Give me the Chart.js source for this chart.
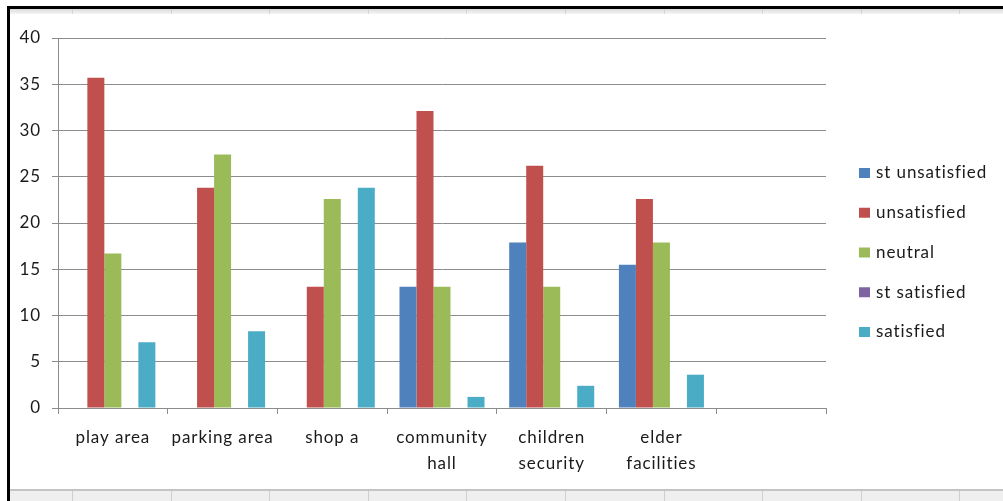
<!DOCTYPE html>
<html>
<head>
<meta charset="utf-8">
<script src="https://cdn.jsdelivr.net/npm/chart.js@4"></script>
<style>
  body { margin: 0; width: 1003px; height: 501px; background: #fff; position: relative; overflow: hidden; font-family: Lato, sans-serif; }
  .frame { position: absolute; left: 7px; top: 6px; width: 1000px; height: 500px; border-left: 3px solid #000; border-top: 3px solid #000; }
  .sheet-top { position: absolute; left: 10px; top: 9px; right: 0; height: 5px;
    background: repeating-linear-gradient(90deg, transparent 0 62px, #d4d4d4 62px 63px, transparent 63px 98.6px), linear-gradient(#dadada, #f6f6f6); }
  .sheet-bottom { position: absolute; left: 10px; top: 489px; right: 0; bottom: 0; border-top: 2px solid #c4c4c4;
    background: repeating-linear-gradient(90deg, transparent 0 62px, #cfcfcf 62px 63px, transparent 63px 98.6px), #efefef; }
  #wrap { position: absolute; left: 10px; top: 9px; width: 990px; height: 480px; }
</style>
</head>
<body>
<div class="frame"></div>
<div class="sheet-top"></div>
<div class="sheet-bottom"></div>
<div id="wrap"><canvas id="surveyChart"></canvas></div>
<script>
let categories = ["play area", "parking area", "shop a", ["community", "hall"], ["children", "security"], ["elder", "facilities"], ""];
let stUnsatisfied = [null, null, null, 13.1, 17.9, 15.5, null];
let unsatisfied = [35.7, 23.8, 13.1, 32.1, 26.2, 22.6, null];
let neutral = [16.7, 27.4, 22.6, 13.1, 13.1, 17.9, null];
let stSatisfied = [null, null, null, null, null, null, null];
let satisfied = [7.1, 8.3, 23.8, 1.2, 2.4, 3.6, null];
let yTicks = [0, 5, 10, 15, 20, 25, 30, 35, 40];

const gridGray = "#8c8c8c";
const textColor = "#1a1a1a";
const fontSize = 17;
const spacing = "0.9px";

// a little letter spacing for all canvas text (reset whenever the canvas is resized)
const wideText = {
  id: "wideText",
  beforeLayout(chart) { chart.ctx.letterSpacing = spacing; },
  beforeDraw(chart) { chart.ctx.letterSpacing = spacing; }
};

// legend on the right, drawn next to the plot area
const sideLegend = {
  id: "sideLegend",
  afterDraw(chart) {
    const ctx = chart.ctx;
    const x = chart.chartArea.right + 33;
    ctx.save();
    ctx.font = fontSize + "px Lato";
    ctx.textBaseline = "middle";
    chart.data.datasets.forEach((ds, i) => {
      const y = 164 + i * 39.75;
      ctx.fillStyle = ds.backgroundColor;
      ctx.fillRect(x, y - 5, 11, 10);
      ctx.fillStyle = textColor;
      ctx.fillText(ds.label, x + 17, y);
    });
    ctx.restore();
  }
};

const ctx = document.getElementById("surveyChart");

new Chart(ctx, {
  type: "bar",
  data: {
    labels: categories,
    datasets: [
      { label: "st unsatisfied", data: stUnsatisfied, backgroundColor: "#4F81BD" },
      { label: "unsatisfied", data: unsatisfied, backgroundColor: "#C0504D" },
      { label: "neutral", data: neutral, backgroundColor: "#9BBB59" },
      { label: "st satisfied", data: stSatisfied, backgroundColor: "#8064A2" },
      { label: "satisfied", data: satisfied, backgroundColor: "#4BACC6" }
    ]
  },
  options: {
    responsive: true,
    maintainAspectRatio: false,
    animation: false,
    layout: { padding: { top: 29, right: 174, left: 0, bottom: 0 } },
    datasets: { bar: { categoryPercentage: 0.775, barPercentage: 1, borderWidth: 0 } },
    plugins: { legend: { display: false }, tooltip: { enabled: false } },
    scales: {
      x: {
        grid: { offset: true, drawOnChartArea: false, tickLength: 6, color: gridGray },
        border: { color: gridGray },
        ticks: { color: textColor, font: { family: "Lato", size: fontSize, lineHeight: 1.5 }, padding: 11, maxRotation: 0, autoSkip: false },
        afterFit(scale) { scale.height = 81; }
      },
      y: {
        min: 0,
        max: 40,
        grid: { color: gridGray, tickLength: 6 },
        border: { color: gridGray },
        afterBuildTicks(scale) { scale.ticks = yTicks.map(v => ({ value: v })); },
        ticks: { color: textColor, font: { family: "Lato", size: fontSize }, padding: 11 },
        afterFit(scale) { scale.width = 48; }
      }
    }
  },
  plugins: [wideText, sideLegend]
});
</script>
</body>
</html>
